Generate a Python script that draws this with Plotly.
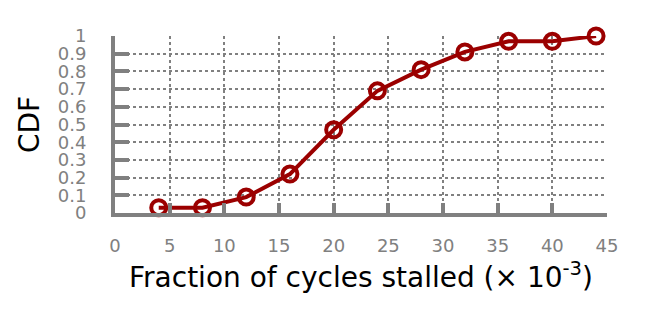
import plotly.graph_objects as go

x_vals = [4, 8, 12, 16, 20, 24, 28, 32, 36, 40, 44]
cdf_vals = [0.03, 0.03, 0.09, 0.22, 0.47, 0.69, 0.81, 0.91, 0.97, 0.97, 1.0]
x_ticks = [0, 5, 10, 15, 20, 25, 30, 35, 40, 45]
y_ticks = [0, 0.1, 0.2, 0.3, 0.4, 0.5, 0.6, 0.7, 0.8, 0.9, 1]
y_tick_text = ["0", "0.1", "0.2", "0.3", "0.4", "0.5", "0.6", "0.7", "0.8", "0.9", "1"]

red = "#9b0000"
gray = "#808080"

fig = go.Figure()
fig.add_trace(go.Scatter(
    x=x_vals, y=cdf_vals, mode="lines+markers",
    line=dict(color=red, width=4),
    marker=dict(symbol="circle-open", size=15, color=red, line=dict(width=4, color=red)),
    showlegend=False, cliponaxis=False,
))

fig.update_layout(
    width=664, height=332,
    margin=dict(l=115, r=57, t=36, b=119),
    paper_bgcolor="white", plot_bgcolor="white",
    font=dict(family="DejaVu Sans", color="black"),
)
fig.update_xaxes(
    range=[0, 45], tickvals=x_ticks, ticks="inside", ticklen=10, tickwidth=4, tickcolor=gray,
    showline=True, linecolor=gray, linewidth=4,
    showgrid=True, gridcolor=gray, griddash="dot", gridwidth=1.5,
    zeroline=False,
    tickfont=dict(family="DejaVu Sans", size=18, color=gray), ticklabelstandoff=13,
    title=dict(text="Fraction of cycles stalled (× 10<sup>-3</sup>)", font=dict(size=28, color="black"), standoff=14),
)
fig.update_yaxes(
    range=[0, 1], tickvals=y_ticks, ticktext=y_tick_text, ticks="inside", ticklen=14, tickwidth=4, tickcolor=gray,
    showline=True, linecolor=gray, linewidth=4,
    showgrid=True, gridcolor=gray, griddash="dot", gridwidth=1.5,
    zeroline=False,
    tickfont=dict(family="DejaVu Sans", size=18, color=gray), ticklabelstandoff=21,
    title=dict(text="CDF", font=dict(size=28, color="black"), standoff=11),
)

fig.write_html("out.html", config={"displayModeBar": False},
               post_script="document.body.style.margin='0';")
